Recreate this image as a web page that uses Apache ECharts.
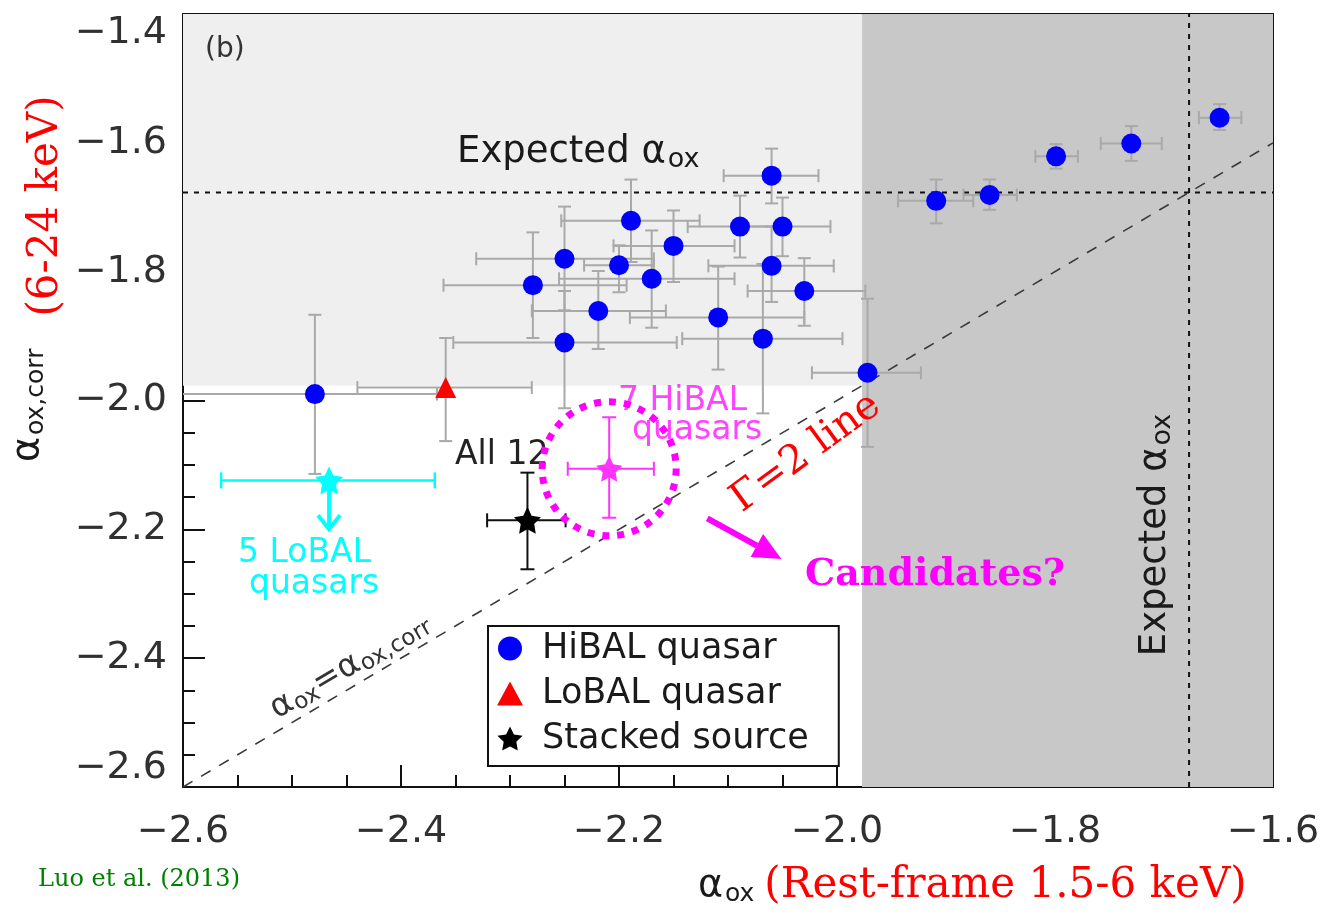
<!DOCTYPE html>
<html>
<head>
<meta charset="utf-8">
<script src="https://cdn.jsdelivr.net/npm/echarts@6/dist/echarts.min.js"></script>
<style>
  html, body { margin: 0; padding: 0; background: #ffffff; }
  #chart { width: 1324px; height: 914px; }
</style>
</head>
<body>
<div id="chart"></div>
<script>
// Axis ranges (alpha_ox on x, corrected alpha_ox on y)
const xRange = [-2.6, -1.6];
const yRange = [-2.6, -1.4];
const tickStep = 0.2;

// Expected alpha_ox and the 0.3 band around it
const expectedAox = -1.677;
const bandEdge = -1.977;

// HiBAL quasars: value, then lower / upper error limits
const hibalX   = [-2.479, -2.279, -2.250, -2.250, -2.219, -2.200, -2.189, -2.170, -2.150, -2.109, -2.089,
                  -2.050, -2.068, -2.060, -2.060, -2.030, -1.972, -1.909, -1.860, -1.799, -1.730, -1.649];
const hibalY   = [-1.990, -1.821, -1.780, -1.910, -1.861, -1.790, -1.721, -1.811, -1.760, -1.871, -1.730,
                  -1.730, -1.904, -1.651, -1.791, -1.830, -1.957, -1.690, -1.681, -1.621, -1.601, -1.561];
const hibalXLo = [-2.650, -2.361, -2.331, -2.352, -2.280, -2.232, -2.253, -2.255, -2.205, -2.190, -2.137,
                  -2.095, -2.142, -2.104, -2.118, -2.082, -2.023, -1.944, -1.884, -1.818, -1.758, -1.668];
const hibalXHi = [-2.367, -2.193, -2.168, -2.147, -2.157, -2.168, -2.126, -2.094, -2.094, -2.030, -2.045,
                  -2.006, -1.995, -2.017, -2.003, -1.974, -1.923, -1.875, -1.835, -1.779, -1.702, -1.629];
const hibalYLo = [-2.114, -1.903, -1.860, -2.012, -1.920, -1.832, -1.785, -1.887, -1.816, -1.952, -1.778,
                  -1.776, -2.020, -1.694, -1.847, -1.884, -2.072, -1.725, -1.704, -1.640, -1.628, -1.580];
const hibalYHi = [-1.867, -1.739, -1.699, -1.830, -1.799, -1.759, -1.657, -1.736, -1.705, -1.792, -1.682,
                  -1.685, -1.788, -1.609, -1.730, -1.779, -1.842, -1.657, -1.657, -1.602, -1.574, -1.540];

// LoBAL quasar
const lobalX   = [-2.359];
const lobalY   = [-1.980];
const lobalXLo = [-2.440];
const lobalXHi = [-2.280];
const lobalYLo = [-2.063];
const lobalYHi = [-1.903];

// Stacked sources: [x, y, xLo, xHi, yLo, yHi]
const stackAll   = [-2.284, -2.186, -2.321, -2.249, -2.262, -2.112];
const stackHibal = [-2.209, -2.106, -2.247, -2.168, -2.182, -2.026];
const stackLobal = [-2.466, -2.124, -2.565, -2.369, -2.124, -2.124];
const stackLobalLimit = -2.200;

// Pointer towards the candidate label: [x1, y1, x2, y2]
const pointer = [-2.119, -2.183, -2.051, -2.246];

const STAR = 'path://M50 0 L64.69 29.77 L97.55 34.55 L73.78 57.73 L79.39 90.45 L50 75 L20.61 90.45 L26.22 57.73 L2.45 34.55 L35.31 29.77 Z';
const SANS = '"DejaVu Sans", sans-serif';
const SERIF = '"DejaVu Serif", serif';

function rows(xs, ys, xl, xh, yl, yh) {
  return xs.map((v, i) => [v, ys[i], xl[i], xh[i], yl[i], yh[i]]);
}

// Error bars with end caps, drawn through the axis scales
function errorBars(name, data, color, width, cap, z) {
  return {
    name, type: 'custom', data, z, silent: true, clip: true,
    encode: { x: 0, y: 1 },
    renderItem(params, api) {
      const x = api.value(0), y = api.value(1);
      const p = api.coord([x, y]);
      const xl = api.coord([api.value(2), y])[0];
      const xh = api.coord([api.value(3), y])[0];
      const yl = api.coord([x, api.value(4)])[1];
      const yh = api.coord([x, api.value(5)])[1];
      const style = { stroke: color, lineWidth: width, fill: null };
      const seg = (x1, y1, x2, y2) => ({ type: 'line', shape: { x1, y1, x2, y2 }, style });
      const kids = [];
      if (xl !== xh) {
        kids.push(seg(xl, p[1], xh, p[1]), seg(xl, p[1] - cap, xl, p[1] + cap), seg(xh, p[1] - cap, xh, p[1] + cap));
      }
      if (yl !== yh) {
        kids.push(seg(p[0], yl, p[0], yh), seg(p[0] - cap, yl, p[0] + cap, yl), seg(p[0] - cap, yh, p[0] + cap, yh));
      }
      return { type: 'group', children: kids };
    }
  };
}

const chart = echarts.init(document.getElementById('chart'), null, { renderer: 'canvas' });

const fmt = v => (v < 0 ? '\u2212' : '') + Math.abs(v).toFixed(1);

function axisCommon(show) {
  return {
    interval: tickStep,
    axisLine: { show: true, onZero: false, lineStyle: { color: '#111', width: 2 } },
    axisTick: { show: true, inside: true, length: 22, lineStyle: { color: '#111', width: 2 } },
    minorTick: { show: true, splitNumber: 4, length: 12, lineStyle: { color: '#111', width: 2 } },
    splitLine: { show: false },
    axisLabel: {
      show, formatter: fmt, color: '#303030', fontFamily: SANS, fontSize: 38
    }
  };
}

const option = {
  animation: false,
  backgroundColor: '#ffffff',
  grid: { left: 183, top: 14, width: 1090, height: 773 },
  xAxis: [
    Object.assign(axisCommon(true), { type: 'value', position: 'bottom', min: xRange[0], max: xRange[1] }),
    Object.assign(axisCommon(false), { type: 'value', position: 'top', min: xRange[0], max: xRange[1] })
  ],
  yAxis: [
    Object.assign(axisCommon(true), { type: 'value', position: 'left', min: yRange[0], max: yRange[1] }),
    Object.assign(axisCommon(false), { type: 'value', position: 'right', min: yRange[0], max: yRange[1] })
  ],
  legend: {
    data: ['HiBAL quasar', 'LoBAL quasar', 'Stacked source'],
    orient: 'vertical', left: 488, top: 626,
    backgroundColor: '#ffffff', borderColor: '#111', borderWidth: 2, borderRadius: 0,
    padding: [5, 30, 10, 9],
    itemWidth: 26, itemHeight: 24, itemGap: 10,
    textStyle: { fontFamily: SANS, fontSize: 35, lineHeight: 35, color: '#1a1a1a', padding: [0, 0, 0, 14] },
    z: 20
  },
  series: [
    {
      name: 'regions', type: 'scatter', data: [], z: -1, silent: true,
      markArea: {
        silent: true,
        data: [
          [{ xAxis: xRange[0], yAxis: bandEdge, itemStyle: { color: '#efefef' } }, { xAxis: bandEdge, yAxis: yRange[1] }],
          [{ xAxis: bandEdge, yAxis: yRange[0], itemStyle: { color: '#c8c8c8' } }, { xAxis: xRange[1], yAxis: yRange[1] }]
        ]
      }
    },
    {
      name: 'one-to-one', type: 'line', showSymbol: false, silent: true, z: 1,
      data: [[xRange[0], yRange[0]], [xRange[1], xRange[1]]],
      lineStyle: { color: '#3a3a3a', width: 1.6, type: [11, 10] }
    },
    {
      name: 'expected-h', type: 'line', showSymbol: false, silent: true, z: 1,
      data: [[xRange[0], expectedAox], [xRange[1], expectedAox]],
      lineStyle: { color: '#111', width: 2, type: [5, 6] }
    },
    {
      name: 'expected-v', type: 'line', showSymbol: false, silent: true, z: 1,
      data: [[expectedAox, yRange[0]], [expectedAox, yRange[1]]],
      lineStyle: { color: '#111', width: 2, type: [5, 6] }
    },
    errorBars('hibal-err', rows(hibalX, hibalY, hibalXLo, hibalXHi, hibalYLo, hibalYHi), '#a9a9a9', 2, 6.5, 2),
    errorBars('lobal-err', rows(lobalX, lobalY, lobalXLo, lobalXHi, lobalYLo, lobalYHi), '#a9a9a9', 2, 6.5, 2),
    errorBars('stack-all-err', [stackAll], '#111', 2, 7, 3),
    errorBars('stack-hibal-err', [stackHibal], '#ff33ff', 2, 7, 3),
    errorBars('stack-lobal-err', [stackLobal], '#00ffff', 2.5, 8, 3),
    {
      name: 'stack-lobal-limit', type: 'custom', silent: true, z: 3,
      data: [[stackLobal[0], stackLobal[1], stackLobalLimit]],
      encode: { x: 0, y: 1 },
      renderItem(params, api) {
        const a = api.coord([api.value(0), api.value(1)]);
        const b = api.coord([api.value(0), api.value(2)]);
        const style = { stroke: '#00ffff', lineWidth: 4, fill: null };
        return { type: 'group', children: [
          { type: 'line', shape: { x1: a[0], y1: a[1], x2: b[0], y2: b[1] }, style },
          { type: 'polyline', shape: { points: [[b[0] - 11, b[1] - 14], [b[0], b[1]], [b[0] + 11, b[1] - 14]] }, style }
        ] };
      }
    },
    {
      name: 'HiBAL quasar', type: 'scatter', z: 4, symbol: 'circle', symbolSize: 20,
      data: hibalX.map((v, i) => [v, hibalY[i]]),
      itemStyle: { color: '#0000ff', opacity: 1 }
    },
    {
      name: 'LoBAL quasar', type: 'scatter', z: 4, symbol: 'triangle', symbolSize: 21,
      data: lobalX.map((v, i) => [v, lobalY[i]]),
      itemStyle: { color: '#ff0000', opacity: 1 }
    },
    {
      name: 'Stacked source', type: 'scatter', z: 4, symbol: STAR, symbolSize: 27,
      data: [[stackAll[0], stackAll[1]]],
      itemStyle: { color: '#000000', opacity: 1 }
    },
    {
      name: 'stack-hibal', type: 'scatter', z: 4, symbol: STAR, symbolSize: 26,
      data: [[stackHibal[0], stackHibal[1]]],
      itemStyle: { color: '#ff33ff', opacity: 1 }
    },
    {
      name: 'stack-lobal', type: 'scatter', z: 4, symbol: STAR, symbolSize: 28,
      data: [[stackLobal[0], stackLobal[1]]],
      itemStyle: { color: '#00ffff', opacity: 1 }
    },
    {
      name: 'candidate-ring', type: 'scatter', z: 6, silent: true, symbol: 'circle', symbolSize: 134,
      data: [[stackHibal[0], stackHibal[1]]],
      itemStyle: { color: 'rgba(0,0,0,0)', borderColor: '#ff00ff', borderWidth: 7, borderType: [7, 8], opacity: 1 }
    },
    {
      name: 'candidate-pointer', type: 'custom', silent: true, z: 6,
      data: [pointer],
      encode: { x: 0, y: 1 },
      renderItem(params, api) {
        const a = api.coord([api.value(0), api.value(1)]);
        const b = api.coord([api.value(2), api.value(3)]);
        const ang = Math.atan2(b[1] - a[1], b[0] - a[0]);
        const L = 28, W = 13;
        const bx = b[0] - L * Math.cos(ang), by = b[1] - L * Math.sin(ang);
        const nx = -Math.sin(ang), ny = Math.cos(ang);
        return { type: 'group', children: [
          { type: 'line', shape: { x1: a[0], y1: a[1], x2: bx, y2: by }, style: { stroke: '#ff00ff', lineWidth: 6 } },
          { type: 'polygon', shape: { points: [[b[0], b[1]], [bx + nx * W, by + ny * W], [bx - nx * W, by - ny * W]] },
            style: { fill: '#ff00ff' } }
        ] };
      }
    }
  ],
  graphic: [
    { type: 'text', x: 205, y: 50, z: 10, style: { text: '(b)', fontFamily: SANS, fontSize: 28, fill: '#333', verticalAlign: 'middle' } },
    { type: 'text', x: 457, y: 152, z: 10, style: {
        text: '{t|Expected α}{s|ox}', verticalAlign: 'middle',
        rich: { t: { fontFamily: SANS, fontSize: 37, fill: '#1a1a1a' },
                s: { fontFamily: SANS, fontSize: 27, fill: '#1a1a1a', padding: [16, 0, 0, 2] } } } },
    { type: 'text', x: 1155, y: 535, rotation: Math.PI / 2, z: 10, style: {
        text: '{t|Expected α}{s|ox}', align: 'center', verticalAlign: 'middle',
        rich: { t: { fontFamily: SANS, fontSize: 37, fill: '#1a1a1a' },
                s: { fontFamily: SANS, fontSize: 27, fill: '#1a1a1a', padding: [16, 0, 0, 2] } } } },
    { type: 'text', x: 455, y: 455, z: 5, style: { text: 'All 12', fontFamily: SANS, fontSize: 33, fill: '#222', verticalAlign: 'middle' } },
    { type: 'text', x: 618, y: 401, z: 5, style: { text: '7 HiBAL', fontFamily: SANS, fontSize: 33, fill: '#ff44ff', verticalAlign: 'middle' } },
    { type: 'text', x: 632, y: 430, z: 5, style: { text: 'quasars', fontFamily: SANS, fontSize: 33, fill: '#ff44ff', verticalAlign: 'middle' } },
    { type: 'text', x: 238, y: 553, z: 5, style: { text: '5 LoBAL', fontFamily: SANS, fontSize: 33, fill: '#00ffff', verticalAlign: 'middle' } },
    { type: 'text', x: 249, y: 584, z: 5, style: { text: 'quasars', fontFamily: SANS, fontSize: 33, fill: '#00ffff', verticalAlign: 'middle' } },
    { type: 'text', x: 806, y: 453, rotation: 0.63, z: 10, style: {
        text: 'Γ=2 line', fontFamily: SERIF, fontSize: 40, fill: '#ff0000', align: 'center', verticalAlign: 'middle' } },
    { type: 'text', x: 350, y: 666, rotation: 0.534, z: 10, style: {
        text: '{t|α}{s|ox}{t|=α}{s|ox,corr}', align: 'center', verticalAlign: 'middle',
        rich: { t: { fontFamily: SANS, fontSize: 33, fill: '#333' },
                s: { fontFamily: SANS, fontSize: 23, fill: '#333', padding: [13, 0, 0, 1] } } } },
    { type: 'text', x: 805, y: 575, z: 10, style: {
        text: 'Candidates?', fontFamily: SERIF, fontWeight: 'bold', fontSize: 38, fill: '#ff00ff', verticalAlign: 'middle' } },
    { type: 'text', x: 38, y: 880, z: 10, style: {
        text: 'Luo et al. (2013)', fontFamily: SERIF, fontSize: 24, fill: '#008000', verticalAlign: 'middle' } },
    { type: 'text', x: 698, y: 886, z: 10, style: {
        text: '{a|α}{s|ox}{r|(Rest-frame 1.5-6 keV)}', verticalAlign: 'middle',
        rich: { a: { fontFamily: SANS, fontSize: 38, fill: '#1a1a1a' },
                s: { fontFamily: SANS, fontSize: 25, fill: '#1a1a1a', padding: [16, 0, 0, 2] },
                r: { fontFamily: SERIF, fontSize: 42, fill: '#ff0000', padding: [0, 0, 0, 10] } } } },
    { type: 'text', x: 28, y: 462, rotation: Math.PI / 2, z: 10, style: {
        text: '{a|α}{s|ox,corr}', verticalAlign: 'middle',
        rich: { a: { fontFamily: SANS, fontSize: 38, fill: '#1a1a1a' },
                s: { fontFamily: SANS, fontSize: 25, fill: '#1a1a1a', padding: [16, 0, 0, 2] } } } },
    { type: 'text', x: 46, y: 206, rotation: Math.PI / 2, z: 10, style: {
        text: '(6-24 keV)', fontFamily: SERIF, fontSize: 42, fill: '#ff0000', align: 'center', verticalAlign: 'middle' } }
  ]
};

// Axis label placement: labels sit below/left of the frame, end labels tucked inside
option.xAxis[0].axisLabel.margin = 26;
option.yAxis[0].axisLabel.margin = 16;
option.yAxis[0].axisLabel.verticalAlignMinLabel = 'bottom';
option.yAxis[0].axisLabel.verticalAlignMaxLabel = 'top';

chart.setOption(option);
</script>
</body>
</html>
